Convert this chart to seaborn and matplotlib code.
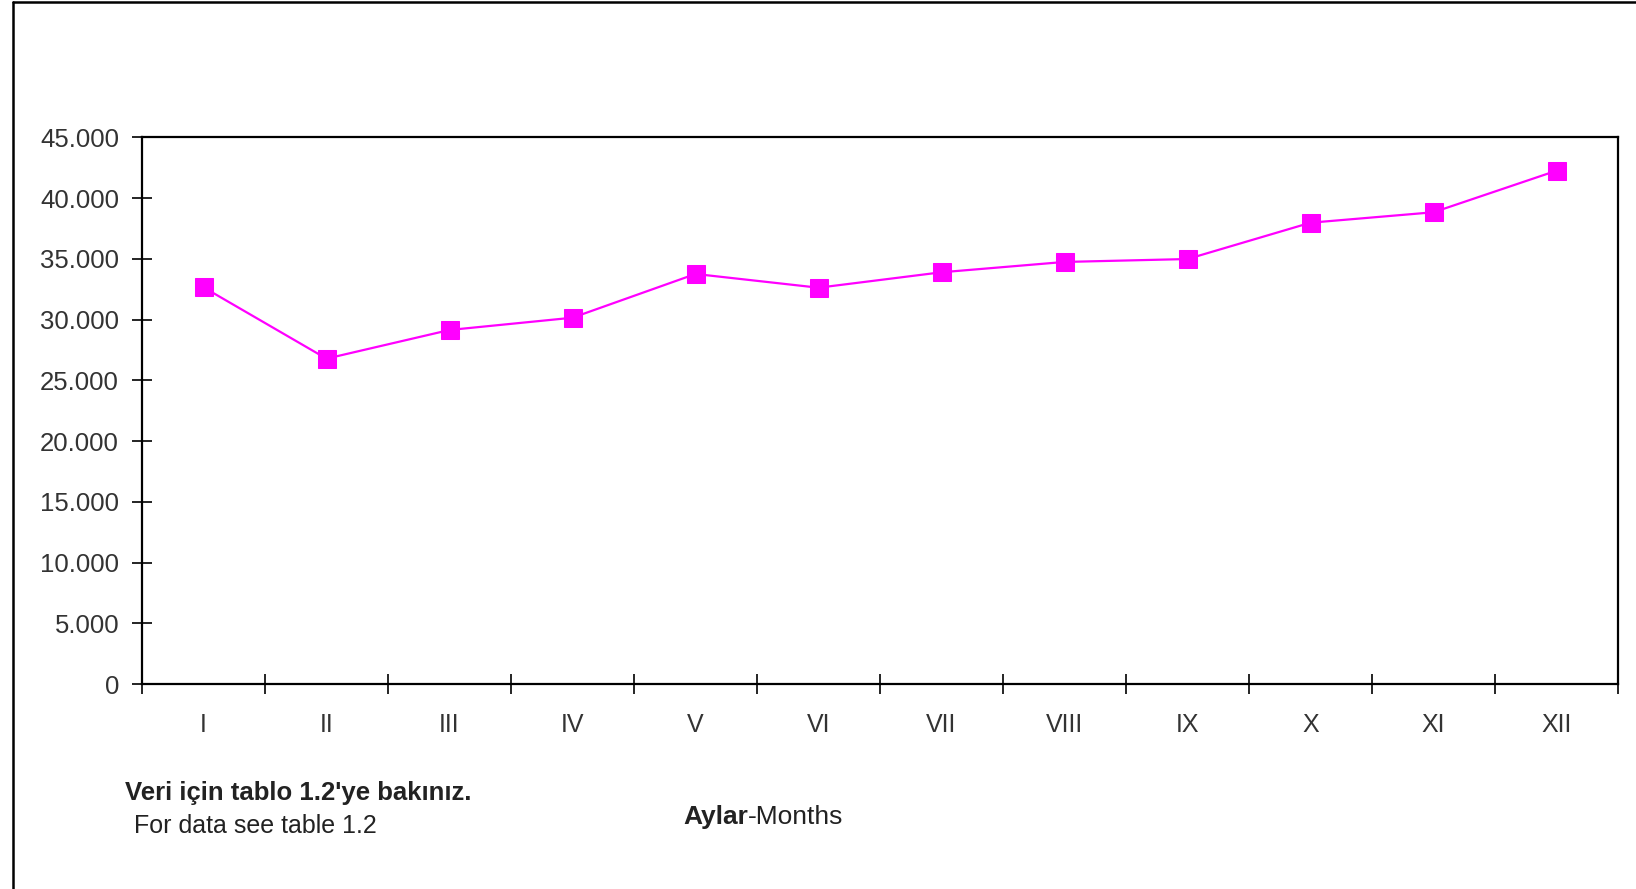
import matplotlib
matplotlib.use("Agg")
import matplotlib.pyplot as plt
from matplotlib.lines import Line2D
from matplotlib.ticker import FixedLocator, FuncFormatter
import seaborn as sns
import pandas as pd
import numpy as np

# Monthly values (I..XII)
months = ["I", "II", "III", "IV", "V", "VI", "VII", "VIII", "IX", "X", "XI", "XII"]
values = [32650, 26780, 29140, 30150, 33750, 32620, 33890, 34740, 34980, 37970, 38830, 42250]
y_ticks = [0, 5000, 10000, 15000, 20000, 25000, 30000, 35000, 40000, 45000]

note_tr = "Veri için tablo 1.2'ye bakınız."
note_en = "For data see table 1.2"
axis_tr = "Aylar"
axis_en = "-Months"

sns.set_style("white")
plt.rcParams["font.family"] = ["Liberation Sans", "DejaVu Sans"]

df = pd.DataFrame({"pos": np.arange(len(months)), "month": months, "value": values})

fig = plt.figure(figsize=(16.36, 8.89), dpi=100)
fig.patch.set_facecolor("white")
ax = fig.add_axes([142 / 1636, 1 - 684 / 889, (1618 - 142) / 1636, (684 - 137.3) / 889])

sns.lineplot(data=df, x="pos", y="value", ax=ax, color="#FF00FF", linewidth=1.6,
             marker="s", markersize=13, markeredgecolor="#FF00FF", markerfacecolor="#FF00FF")

ax.set_xlim(-0.5, len(months) - 0.5)
ax.set_ylim(y_ticks[0], y_ticks[-1])

# Category boundaries carry the tick marks; labels sit between them
ax.xaxis.set_major_locator(FixedLocator(np.arange(len(months) + 1) - 0.5))
ax.xaxis.set_major_formatter(FuncFormatter(lambda v, p: ""))
ax.xaxis.set_minor_locator(FixedLocator(np.arange(len(months))))
ax.set_xticklabels(months, minor=True)
ax.tick_params(axis="x", which="major", direction="inout", length=15, width=1.2,
               color="black", bottom=True)
ax.tick_params(axis="x", which="minor", length=0, pad=21, labelsize=18,
               labelcolor="#333333", bottom=True)

ax.yaxis.set_major_locator(FixedLocator(y_ticks))
ax.yaxis.set_major_formatter(FuncFormatter(lambda v, p: f"{int(v):,}".replace(",", ".")))
ax.tick_params(axis="y", which="major", direction="inout", length=15, width=1.2,
               color="black", left=True, labelsize=18.5, labelcolor="#333333", pad=9)

ax.set_xlabel("")
ax.set_ylabel("")
for side in ["left", "right", "top", "bottom"]:
    ax.spines[side].set_visible(True)
    ax.spines[side].set_color("black")
    ax.spines[side].set_linewidth(1.6)
ax.grid(False)

# Notes below the axis
fig.text(125 / 1636, 1 - 793 / 889, note_tr, fontsize=18.5, fontweight="bold",
         color="#222222", ha="left", va="center")
fig.text(134 / 1636, 1 - 826 / 889, note_en, fontsize=18, color="#222222",
         ha="left", va="center")
t1 = fig.text(683 / 1636, 1 - 817 / 889, axis_tr, fontsize=19, fontweight="bold",
              color="#222222", ha="left", va="center")
fig.canvas.draw()
bb = t1.get_window_extent()
fig.text(bb.x1 / 1636, 1 - 817 / 889, axis_en, fontsize=19, color="#222222",
         ha="left", va="center")

# Outer frame (left and top edges)
fig.add_artist(Line2D([12.5 / 1636, 12.5 / 1636], [0, 1 - 2 / 889],
                      transform=fig.transFigure, color="black", linewidth=1.8))
fig.add_artist(Line2D([12.5 / 1636, 1], [1 - 2 / 889, 1 - 2 / 889],
                      transform=fig.transFigure, color="black", linewidth=1.8))

fig.savefig("out.png", dpi=100, facecolor="white")
